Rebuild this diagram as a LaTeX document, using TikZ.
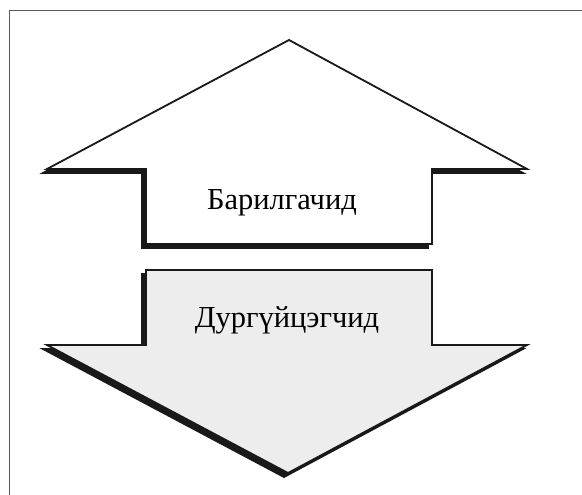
\documentclass[tikz,border=0pt]{standalone}
\usepackage{fontspec}
\setmainfont{Liberation Serif}
\begin{document}
\begin{tikzpicture}[x=1pt, y=-1pt
        , every path/.style={ line join=miter }
        , body/.style={ draw=black!90, line width=1.8pt }
        , shade/.style={ fill=black!90, draw=black!90, line width=1.8pt, shift={(-4,4)} }
        , caption/.style={ font=\fontsize{30.5}{32}\selectfont, inner sep=0pt, anchor=base }
        ]
    \useasboundingbox (0,0) rectangle (582,495);

    % frame, only top and left edges show
    \draw[black!65, line width=1.2pt] (582,10.5) -- (9.5,10.5) -- (9.5,495);

    % up arrow
    \path[shade] (289,40) -- (527,169) -- (432,169) -- (432,244)
        -- (146,244) -- (146,169) -- (47,169) -- cycle;
    \path[body, fill=white] (289,40) -- (527,169) -- (432,169) -- (432,244)
        -- (146,244) -- (146,169) -- (47,169) -- cycle;
    \node[caption] (build) at (282,209) {Барилгачид};

    % down arrow
    \path[shade] (146,270) -- (432,270) -- (432,345) -- (527,345)
        -- (288,473) -- (47,345) -- (146,345) -- cycle;
    \path[body, fill=black!7] (146,270) -- (432,270) -- (432,345) -- (527,345)
        -- (288,473) -- (47,345) -- (146,345) -- cycle;
    \node[caption] (destroy) at (287,327) {Дургүйцэгчид};

\end{tikzpicture}
\end{document}
